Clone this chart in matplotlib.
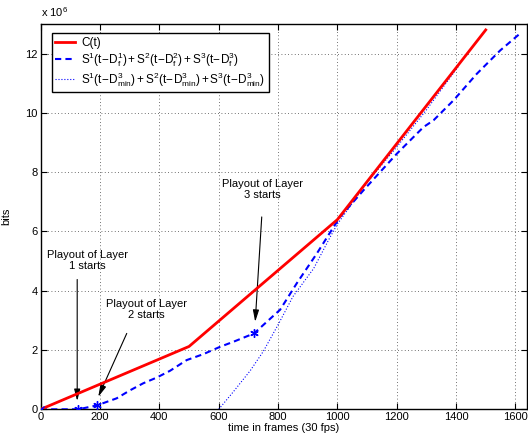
import matplotlib
matplotlib.use("Agg")
import matplotlib.pyplot as plt

plt.rcParams['font.family'] = ['Liberation Sans', 'DejaVu Sans']
plt.rcParams['mathtext.fontset'] = 'custom'
plt.rcParams['mathtext.rm'] = 'Liberation Sans'
plt.rcParams['mathtext.it'] = 'Liberation Sans'
plt.rcParams['mathtext.default'] = 'regular'

# C(t): cumulative bits (x 1e6)
c_t = [0, 500, 1000, 1500]
c_bits = [0, 2.12, 6.4, 12.8]

# S(t - D_f): playout with per-layer delays
sf_t = [0, 127, 189, 256, 301, 346, 391, 436, 492, 548, 605, 650, 719,
        807, 863, 931, 987, 1009, 1088, 1201, 1290, 1324, 1392, 1470, 1549, 1617]
sf_bits = [0, 0, 0.13, 0.37, 0.64, 0.88, 1.07, 1.30, 1.66, 1.86, 2.11, 2.28, 2.56,
           3.36, 4.25, 5.26, 6.15, 6.49, 7.39, 8.63, 9.52, 9.75, 10.43, 11.32, 12.11, 12.69]

# S(t - D_min): all layers with the same minimal delay
smin_t = [600, 650, 706, 750, 800, 850, 920, 975, 1000, 1100, 1200, 1300, 1410]
smin_bits = [0, 0.6, 1.3, 1.95, 2.85, 3.8, 4.75, 5.8, 6.25, 7.65, 8.85, 10.1, 11.6]

# playout start markers
start_t = [127, 189, 719]
start_bits = [0, 0.13, 2.56]

xticks = [0, 200, 400, 600, 800, 1000, 1200, 1400, 1600]
yticks = [0, 2, 4, 6, 8, 10, 12]

labels = ['C(t)',
          r'$S^1(t\!-\!D_f^1) + S^2(t\!-\!D_f^2) + S^3(t\!-\!D_f^3)$',
          r'$S^1(t\!-\!D^3_{min}) + S^2(t\!-\!D^3_{min}) + S^3(t\!-\!D^3_{min})$']

annotations = [
    ("Playout of Layer\n1 starts", (158, 5.03), (123, 4.38), (123, 0.28)),
    ("Playout of Layer\n2 starts", (356, 3.36), (290, 2.56), (194, 0.42)),
    ("Playout of Layer\n3 starts", (748, 7.42), (745, 6.49), (723, 2.95)),
]

fig = plt.figure(figsize=(5.28, 4.37), dpi=100)
ax = fig.add_axes([0.0771, 0.0634, 0.9215, 0.8817])

ax.plot(c_t, c_bits, color=(1, 0, 0), lw=2.0, label=labels[0], zorder=4)
ax.plot(sf_t, sf_bits, color=(0, 0, 1), lw=1.5, dashes=(3, 2), label=labels[1], zorder=3)
ax.plot(smin_t, smin_bits, color=(0, 0, 1), lw=0.8, ls=':', label=labels[2], zorder=2)
ax.plot(start_t, start_bits, ls='none', marker=(6, 2, 0), ms=6, mec=(0, 0, 1), mew=1.0, zorder=5)
ax.plot([0], [0], ls='none', marker='x', ms=5, mec=(0, 0, 1), mew=1.0, zorder=5)

for txt, tpos, a0, a1 in annotations:
    ax.text(tpos[0], tpos[1], txt, ha='center', va='center', multialignment='center',
            fontsize=8, linespacing=1.1)
    ax.annotate('', xy=a1, xytext=a0,
                arrowprops=dict(arrowstyle='-|>,head_length=0.7,head_width=0.18',
                                color='black', lw=0.8, shrinkA=0, shrinkB=0,
                                mutation_scale=10))

ax.set_xlim(0, 1640)
ax.set_ylim(0, 13)
ax.set_xticks(xticks)
ax.set_yticks(yticks)
ax.set_xticklabels([str(v) for v in xticks])
ax.set_yticklabels([str(v) for v in yticks])
ax.tick_params(direction='in', top=True, right=True, length=4, width=0.8,
               labelsize=8, pad=2)
ax.grid(True, color='#444444', ls=(0, (1, 3)), lw=0.6)
for s in ax.spines.values():
    s.set_linewidth(1.0)

ax.set_xlabel('time in frames (30 fps)', fontsize=8, labelpad=1)
ax.set_ylabel('bits', fontsize=8, labelpad=10)
ax.text(0.0, 1.012, r'x 10$^6$', transform=ax.transAxes, ha='left', va='bottom', fontsize=8)

leg = ax.legend(loc='upper left', bbox_to_anchor=(0.0226, 0.976), fontsize=8.5,
                frameon=True, fancybox=False, framealpha=1, edgecolor='black',
                handlelength=1.7, handletextpad=0.5, labelspacing=0.1,
                borderpad=0.3, borderaxespad=0)
leg.get_frame().set_linewidth(1.0)

fig.savefig('out.png', dpi=100)
